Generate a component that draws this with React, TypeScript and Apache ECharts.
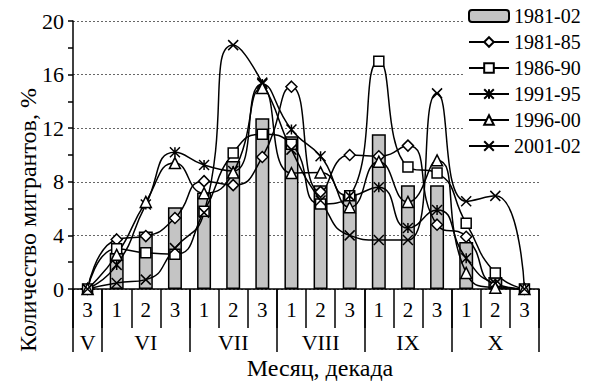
import React, { useEffect, useRef } from "react";
import * as echarts from "echarts";

const decades = ["3", "1", "2", "3", "1", "2", "3", "1", "2", "3", "1", "2", "3", "1", "2", "3"];
const months = ["V", "VI", "VI", "VI", "VII", "VII", "VII", "VIII", "VIII", "VIII", "IX", "IX", "IX", "X", "X", "X"];
const monthLabelIdx = [0, 2, 5, 8, 11, 14];
const monthBoundaryIdx = [0, 1, 4, 7, 10, 13];

const seriesNames = ["1981-02", "1981-85", "1986-90", "1991-95", "1996-00", "2001-02"];
const total8102 = [0, 2.7, 4.3, 6.1, 7.2, 9.55, 12.75, 11.4, 7.75, 7.1, 11.55, 7.75, 7.75, 3.5, 0.9, 0];
const s8185 = [0, 3.7, 3.95, 5.3, 8.05, 7.75, 9.85, 15.1, 7.25, 10.0, 9.9, 10.7, 4.8, 3.9, 0.3, 0];
const s8690 = [0, 3.0, 2.7, 2.6, 5.8, 10.15, 11.55, 10.8, 6.35, 6.95, 17.0, 9.1, 8.65, 4.9, 1.2, 0];
const s9195 = [0, 1.8, 6.3, 10.2, 9.25, 8.8, 15.3, 11.9, 9.9, 6.95, 7.6, 4.55, 5.9, 2.3, 0.4, 0];
const s9600 = [0, 2.55, 6.5, 9.4, 7.15, 8.7, 15.0, 8.65, 8.7, 6.1, 9.5, 6.5, 9.6, 1.2, 0.1, 0];
const s0102 = [0, 0.45, 0.7, 3.05, 5.7, 18.2, 15.4, 10.4, 6.6, 4.0, 3.65, 3.65, 14.6, 6.55, 6.95, 0];

const FONT = "Liberation Serif";
const CROSS = "path://M0,0L10,10M10,0L0,10";
const STAR = "path://M0,0L10,10M10,0L0,10M5,0L5,10";

function lineSeries(name: string, data: number[], symbol: string, size: number) {
  return {
    name,
    type: "line",
    data,
    smooth: 0.55,
    symbol,
    symbolSize: size,
    showAllSymbol: true,
    lineStyle: { color: "#000", width: 1.5 },
    itemStyle: { color: "#fff", borderColor: "#000", borderWidth: 1.5 },
    z: 3,
  };
}

export default function App() {
  const ref = useRef<HTMLDivElement>(null);
  useEffect(() => {
    if (!ref.current) return;
    const chart = echarts.init(ref.current, undefined, { renderer: "svg" });
    chart.setOption({
      animation: false,
      backgroundColor: "#fff",
      textStyle: { fontFamily: FONT },
      grid: { left: 73, right: 54, top: 21, bottom: 92, containLabel: false, outerBoundsMode: "none" },
      legend: {
        orient: "vertical",
        left: 463,
        top: 3,
        itemWidth: 40,
        itemHeight: 12,
        itemGap: 6,
        backgroundColor: "#fff",
        padding: [3, 10, 3, 5],
        textStyle: { fontSize: 20, fontFamily: FONT, color: "#000" },
        data: seriesNames,
      },
      xAxis: [
        {
          type: "category",
          data: decades,
          position: "bottom",
          boundaryGap: true,
          axisLine: { show: true, lineStyle: { color: "#000", width: 1.5 } },
          axisTick: { show: true, interval: 0, length: 39, lineStyle: { color: "#000", width: 1.5 } },
          axisLabel: { interval: 0, fontSize: 21, fontFamily: FONT, color: "#000", margin: 10 },
          splitLine: { show: false },
        },
        {
          type: "category",
          data: months,
          position: "bottom",
          offset: 0,
          boundaryGap: true,
          axisLine: { show: false },
          axisTick: {
            show: true,
            length: 63,
            interval: (i: number) => monthBoundaryIdx.indexOf(i) >= 0,
            lineStyle: { color: "#000", width: 1.5 },
          },
          axisLabel: {
            interval: (i: number) => monthLabelIdx.indexOf(i) >= 0,
            fontSize: 22,
            fontFamily: FONT,
            color: "#000",
            margin: 42,
          },
          name: "Месяц, декада",
          nameLocation: "middle",
          nameGap: 67,
          nameMoveOverlap: false,
          nameTextStyle: { fontSize: 24, fontFamily: FONT, color: "#000", padding: [0, 0, 0, 28] },
          splitLine: { show: false },
        },
      ],
      yAxis: {
        type: "value",
        min: 0,
        max: 20,
        interval: 4,
        axisLine: { show: true, lineStyle: { color: "#000", width: 1.5 } },
        axisTick: { show: true, inside: false, length: 5, lineStyle: { color: "#000", width: 1.5 } },
        minorTick: { show: true, splitNumber: 2, length: 5, lineStyle: { color: "#000", width: 1.5 } },
        splitLine: { show: true, lineStyle: { color: "#666", type: [2, 2], width: 1 } },
        axisLabel: { fontSize: 22, fontFamily: FONT, color: "#000", margin: 9 },
        name: "Количество мигрантов, %",
        nameLocation: "middle",
        nameGap: 33,
        nameMoveOverlap: false,
        nameTextStyle: { fontSize: 24, fontFamily: FONT, color: "#000", padding: [0, 130, 0, 0] },
      },
      series: [
        {
          name: seriesNames[0],
          type: "bar",
          data: total8102,
          barWidth: 14,
          itemStyle: { color: "#c4c4c4", borderColor: "#000", borderWidth: 1.5 },
          z: 2,
        },
        lineSeries(seriesNames[1], s8185, "diamond", 11),
        lineSeries(seriesNames[2], s8690, "rect", 10),
        lineSeries(seriesNames[3], s9195, STAR, 10),
        lineSeries(seriesNames[4], s9600, "triangle", 11),
        lineSeries(seriesNames[5], s0102, CROSS, 10),
      ],
    });
    return () => chart.dispose();
  }, []);
  return (
    <div
      ref={ref}
      style={{ position: "fixed", left: 0, top: 0, width: 593, height: 381, background: "#fff" }}
    />
  );
}
